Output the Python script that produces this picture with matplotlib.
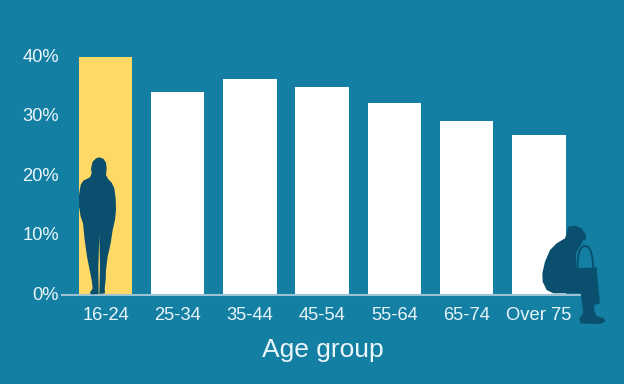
import numpy as np
import matplotlib
matplotlib.use('Agg')
import matplotlib.pyplot as plt
from matplotlib.patches import Polygon, PathPatch
from matplotlib.path import Path
from matplotlib.transforms import Affine2D

plt.rcParams['font.family'] = ['Liberation Sans', 'DejaVu Sans']

groups = ['16-24', '25-34', '35-44', '45-54', '55-64', '65-74', 'Over 75']
shares = [39.8, 34.0, 36.2, 34.8, 32.1, 29.1, 26.8]
yticks = [0, 10, 20, 30, 40]

BG = '#137FA3'
DARK = '#0A4F6D'
YELLOW = '#FFD966'
TEXT = '#EAF6FA'

fig = plt.figure(figsize=(6.24, 3.84), dpi=100, facecolor=BG)
# axes box in reference pixels: x 62-580, baseline at y 294.5, 40% at y 56
ax = fig.add_axes([62/624, (384-294.5)/384, (580-62)/624, (294.5-56)/384])
ax.set_facecolor(BG)

x = np.arange(len(groups))
colors = [YELLOW] + ['white'] * (len(groups) - 1)
ax.bar(x, shares, width=0.74, color=colors, linewidth=0)
ax.set_xlim(-0.603, 6.57)
ax.set_ylim(0, 40)
ax.set_xticks(x, groups)
ax.set_yticks(yticks, [f'{v}%' for v in yticks])
ax.tick_params(length=0, labelsize=13.2, labelcolor=TEXT)
ax.tick_params(axis='x', pad=9)
ax.tick_params(axis='y', pad=3)
# y labels sit a touch lower than their ticks in the original
for lab in ax.get_yticklabels():
    lab.set_verticalalignment('center')
    lab.set_transform(lab.get_transform() + Affine2D().translate(1, -1))
for s in ['top', 'right', 'left']:
    ax.spines[s].set_visible(False)
ax.spines['bottom'].set_color('#9CC3D3')
ax.spines['bottom'].set_linewidth(1.5)

fig.text(323/624, 1-350.5/384, 'Age group', color=TEXT, fontsize=19,
         ha='center', va='center')

# silhouettes, outlines traced in pixels of the reference (y down)
to_px = Affine2D().scale(1, -1).translate(0, 384)

stander = np.array([(118, 52), (130, 56), (138, 68), (140, 85), (138, 105), (145, 118),
                    (155, 128), (163, 145), (167, 175), (168, 210), (165, 240), (158, 270),
                    (152, 310), (143, 350), (138, 390), (137, 420), (134, 445), (135, 460),
                    (118, 462), (120, 380), (118, 285), (115, 380), (116, 462),
                    (93, 463), (90, 458), (98, 445), (95, 420), (89, 390), (81, 350),
                    (74, 300), (69, 250), (62, 230), (57, 200), (57, 165), (62, 135),
                    (70, 122), (90, 112), (95, 100), (93, 85), (98, 65), (108, 55)]) / 3 + (60, 140)
fig.add_artist(Polygon(stander, closed=True, fc=DARK, ec='none', transform=to_px))

sitter = np.array([(205, 50), (225, 47), (245, 55), (258, 75), (258, 88), (248, 92),
                   (243, 105), (238, 110), (228, 130), (228, 175), (290, 172), (292, 200),
                   (300, 280), (283, 285), (283, 305), (290, 318), (312, 325), (315, 335),
                   (300, 342), (242, 340), (238, 325), (250, 308), (247, 285), (242, 250),
                   (160, 250), (140, 240), (128, 215), (127, 190), (135, 155), (150, 120),
                   (170, 100), (195, 85), (200, 70)]) / 3 + (500, 210)
fig.add_artist(Polygon(sitter, closed=True, fc=DARK, ec='none', transform=to_px))

cane = np.array([(232, 175), (232, 108), (255, 108), (278, 108), (280, 175)]) / 3 + (500, 210)
fig.add_artist(PathPatch(Path(cane, [Path.MOVETO, Path.CURVE3, Path.CURVE3, Path.CURVE3, Path.CURVE3]),
                         fc='none', ec=DARK, lw=1.4, transform=to_px))

fig.savefig('out.png', dpi=100, facecolor=BG)
